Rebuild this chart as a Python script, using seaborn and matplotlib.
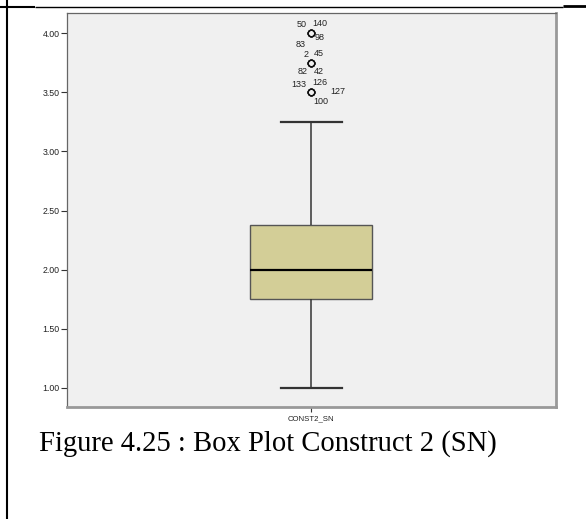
import numpy as np
import pandas as pd
import matplotlib
matplotlib.use("Agg")
import matplotlib.pyplot as plt
from matplotlib.lines import Line2D
import seaborn as sns

# ---- data (scale scores and estimated case counts) ----
score_values = [1.00, 1.25, 1.50, 1.75, 2.00, 2.25, 2.50, 2.75, 3.00, 3.25, 3.50, 3.75, 4.00]
score_counts = [4, 8, 22, 30, 32, 23, 14, 9, 4, 1, 4, 4, 4]
variable_name = "CONST2_SN"
ytick_values = [1.0, 1.5, 2.0, 2.5, 3.0, 3.5, 4.0]
ytick_labels = ["1.00", "1.50", "2.00", "2.50", "3.00", "3.50", "4.00"]
outlier_values = [4.00, 3.75, 3.50]
outlier_case_labels = [["50", "140", "98", "83"],
                       ["2", "45", "82", "42"],
                       ["133", "126", "127", "100"]]
caption = "Figure 4.25 : Box Plot Construct 2 (SN)"

# label offsets from the outlier circle (pixels, x right, y down)
label_offsets = [[(-9.3, -9.0), (8.5, -10.0), (8.3, 3.8), (-10.3, 11.0)],
                 [(-5.0, -8.0), (7.3, -9.0), (-9.0, 9.0), (7.3, 9.0)],
                 [(-13.0, -8.3), (9.0, -10.0), (26.5, -0.5), (9.5, 9.5)]]

scores = np.repeat(score_values, score_counts)
df = pd.DataFrame({"variable": variable_name, "value": scores})

W, H = 586, 519
fig = plt.figure(figsize=(W / 100, H / 100), dpi=100)
fig.patch.set_facecolor("white")

left, right, top, bottom = 66.7, 556.0, 12.7, 406.5
ax = fig.add_axes([left / W, 1 - bottom / H, (right - left) / W, (bottom - top) / H])
ax.set_facecolor("#F0F0F0")

edge = "#333333"
sns.boxplot(data=df, x="variable", y="value", ax=ax, width=0.249, whis=1.5,
            color="#D3CE97", linecolor=edge, linewidth=1.0,
            saturation=1,
            boxprops=dict(facecolor="#D3CE97", edgecolor="#555555", linewidth=1.0),
            medianprops=dict(color="black", linewidth=1.6),
            whiskerprops=dict(color=edge, linewidth=1.1),
            capprops=dict(color=edge, linewidth=1.6),
            flierprops=dict(marker="o", markersize=4.8, markerfacecolor="none",
                            markeredgecolor="#111111", markeredgewidth=0.9))

ax.set_xlim(-0.5, 0.5)
ax.set_ylim(0.841, 4.175)
ax.set_yticks(ytick_values)
ax.set_yticklabels(ytick_labels)
ax.set_xlabel("")
ax.set_ylabel("")
ax.grid(False)

tick_font = "Liberation Sans"
ax.tick_params(axis="y", direction="out", length=4, width=0.8, color="#333333",
               labelsize=6.3, labelcolor="#222222", pad=1)
ax.tick_params(axis="x", direction="out", length=3.5, width=0.8, color="#333333",
               labelsize=5.6, labelcolor="#222222", pad=2.5)
for lbl in ax.get_yticklabels() + ax.get_xticklabels():
    lbl.set_fontfamily(tick_font)

for side in ["left", "top"]:
    ax.spines[side].set_color("#666666")
    ax.spines[side].set_linewidth(0.9)
for side in ["right", "bottom"]:
    ax.spines[side].set_color("#999999")
    ax.spines[side].set_linewidth(2.0)

# outlier case labels
for val, labels, offs in zip(outlier_values, outlier_case_labels, label_offsets):
    for lab, (dx, dy) in zip(labels, offs):
        ax.annotate(lab, xy=(0, val), xytext=(dx * 0.72, -dy * 0.72),
                    textcoords="offset points", ha="center", va="center",
                    fontsize=6.5, family=tick_font, color="#222222")

# caption
fig.text(268 / W, 1 - 451 / H, caption, ha="center", va="baseline",
         fontsize=20.6, family="Liberation Serif", color="black")

# table borders
def px_line(x0, y0, x1, y1, lw, color="black"):
    fig.add_artist(Line2D([x0 / W, x1 / W], [1 - y0 / H, 1 - y1 / H],
                          transform=fig.transFigure, lw=lw, color=color,
                          solid_capstyle="butt"))

px_line(6.7, 0, 6.7, H, 1.5)
px_line(0, 6.5, 35, 6.5, 1.5)
px_line(35, 6.5, 563, 6.5, 1.0)
px_line(563, 6.3, W, 6.3, 2.0)

fig.savefig("out.png", dpi=100)
